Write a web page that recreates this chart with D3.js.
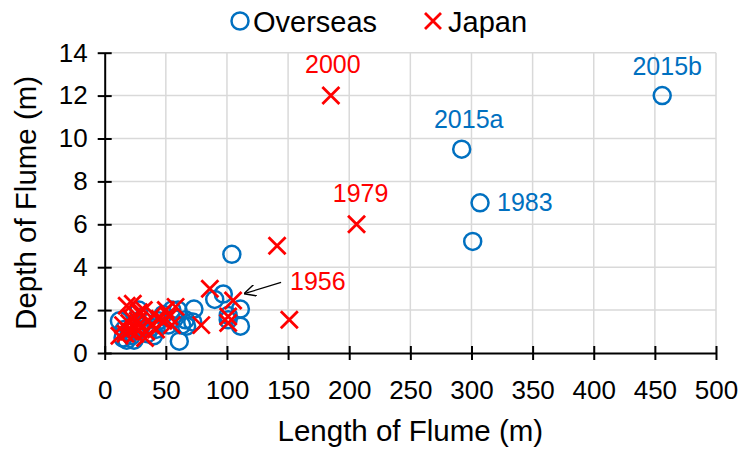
<!DOCTYPE html>
<html>
<head>
<meta charset="utf-8">
<script src="https://cdn.jsdelivr.net/npm/d3@7"></script>
<style>
  body { margin: 0; background: #fff; }
  svg text { font-family: "Liberation Sans", Arial, sans-serif; }
</style>
</head>
<body>
<div id="chart"></div>
<script>
// Overseas flumes: length (m), depth (m)
const overseasLength = [104, 97, 90, 111, 101, 101, 111, 61, 73, 66, 67, 72, 60, 292, 307, 301, 456,
  12, 15, 18, 20, 22, 25, 28, 29, 32, 35, 38, 40, 44, 48, 52, 55, 57, 30, 24, 16, 42, 63];
const overseasDepth = [4.6, 2.75, 2.5, 2.05, 1.75, 1.55, 1.25, 0.55, 2.05, 1.55, 1.25, 1.45, 2.0, 9.5, 7.0, 5.2, 12.0,
  1.5, 0.7, 0.6, 1.0, 0.8, 1.4, 2.0, 1.1, 1.7, 0.9, 1.2, 0.8, 1.5, 1.8, 1.3, 2.0, 1.6, 1.3, 0.6, 1.1, 1.1, 1.3];

// Japanese flumes: length (m), depth (m)
const japanLength = [185, 206, 141, 151, 105, 101, 101, 86, 79,
  12, 15, 18, 20, 22, 23, 25, 27, 28, 30, 32, 34, 36, 38, 40, 42, 45, 48, 50, 53, 55, 58, 20, 17, 26, 33];
const japanDepth = [12.0, 6.0, 5.0, 1.55, 2.45, 1.7, 1.4, 3.0, 1.3,
  0.8, 1.3, 2.2, 1.0, 1.6, 2.3, 0.9, 1.5, 1.9, 1.2, 2.0, 1.0, 1.5, 1.3, 1.8, 1.1, 1.6, 1.5, 2.0, 1.7, 1.3, 2.15, 1.4, 0.9, 1.2, 0.7];

const xTicks = [0, 50, 100, 150, 200, 250, 300, 350, 400, 450, 500];
const yTicks = [0, 2, 4, 6, 8, 10, 12, 14];

// labelled points: series, index into series arrays, text
const labelSeries = ["japan", "japan", "overseas", "overseas", "overseas", "japan"];
const labelIndex = [0, 1, 13, 14, 16, 4];
const labelText = ["2000", "1979", "2015a", "1983", "2015b", "1956"];

const W = 743, H = 450;
const blue = "#0070C0", red = "#FF0000";

const svg = d3.select("#chart").append("svg")
  .attr("width", W).attr("height", H);

const x = d3.scaleLinear().domain([0, 500]).range([104.7, 716]);
const y = d3.scaleLinear().domain([0, 14]).range([353, 52.7]);

// grid
svg.append("g").selectAll("line").data(xTicks.slice(1)).enter().append("line")
  .attr("x1", d => x(d)).attr("x2", d => x(d))
  .attr("y1", y(0)).attr("y2", y(14))
  .attr("stroke", "#d9d9d9").attr("stroke-width", 1.5);
svg.append("g").selectAll("line").data(yTicks.slice(1)).enter().append("line")
  .attr("x1", x(0)).attr("x2", x(500))
  .attr("y1", d => y(d)).attr("y2", d => y(d))
  .attr("stroke", "#d9d9d9").attr("stroke-width", 1.5);

// axes (cross tick marks)
const xAxis = svg.append("g")
  .attr("transform", `translate(0,${y(0)})`)
  .call(d3.axisBottom(x).tickValues(xTicks).tickSize(7).tickSizeOuter(0));
xAxis.selectAll(".tick line").attr("y1", -7);
xAxis.selectAll("text").attr("dy", "1.4em");

const yAxis = svg.append("g")
  .attr("transform", `translate(${x(0)},0)`)
  .call(d3.axisLeft(y).tickValues(yTicks).tickSize(7).tickSizeOuter(0));
yAxis.selectAll(".tick line").attr("x1", 7);
yAxis.selectAll("text").attr("x", -17);

svg.selectAll(".domain").attr("stroke", "#000").attr("stroke-width", 2);
svg.selectAll(".tick line").attr("stroke", "#000").attr("stroke-width", 2);
svg.selectAll(".tick text").attr("font-size", 26).attr("fill", "#000")
  .attr("font-family", "Liberation Sans, Arial, sans-serif");

// axis titles
svg.append("text")
  .attr("x", (x(0) + x(500)) / 2).attr("y", 441)
  .attr("text-anchor", "middle").attr("font-size", 29.5)
  .text("Length of Flume (m)");
svg.append("text")
  .attr("transform", `translate(36,${(y(0) + y(14)) / 2}) rotate(-90)`)
  .attr("text-anchor", "middle").attr("font-size", 29.5)
  .text("Depth of Flume (m)");

// series
const overseas = overseasLength.map((d, i) => ({ l: d, d: overseasDepth[i] }));
const japan = japanLength.map((d, i) => ({ l: d, d: japanDepth[i] }));

svg.append("g").selectAll("circle").data(overseas).enter().append("circle")
  .attr("cx", d => x(d.l)).attr("cy", d => y(d.d)).attr("r", 8.5)
  .attr("fill", "none").attr("stroke", blue).attr("stroke-width", 2.5);

const s = 8.5;
const crossPath = d => `M${x(d.l) - s},${y(d.d) - s}L${x(d.l) + s},${y(d.d) + s}M${x(d.l) - s},${y(d.d) + s}L${x(d.l) + s},${y(d.d) - s}`;
svg.append("g").selectAll("path").data(japan).enter().append("path")
  .attr("d", crossPath)
  .attr("fill", "none").attr("stroke", red).attr("stroke-width", 2.8);

// annotations
const labelOffsets = {
  "2000": [2, -23, "middle"],
  "1979": [4, -22, "middle"],
  "2015a": [7, -21, "middle"],
  "1983": [17, 8, "start"],
  "2015b": [5, -21, "middle"],
  "1956": [57, -10, "start"]
};
labelText.forEach((t, i) => {
  const isJ = labelSeries[i] === "japan";
  const p = isJ ? japan[labelIndex[i]] : overseas[labelIndex[i]];
  const o = labelOffsets[t];
  svg.append("text")
    .attr("x", x(p.l) + o[0]).attr("y", y(p.d) + o[1])
    .attr("text-anchor", o[2]).attr("font-size", 25)
    .attr("fill", isJ ? red : blue)
    .text(t);
});

// arrow for 1956
svg.append("defs").append("marker")
  .attr("id", "arr").attr("viewBox", "0 0 10 10")
  .attr("refX", 9).attr("refY", 5)
  .attr("markerWidth", 12).attr("markerHeight", 12)
  .attr("markerUnits", "userSpaceOnUse").attr("orient", "auto")
  .append("path").attr("d", "M0,0L10,5L0,10").attr("fill", "none").attr("stroke", "#000").attr("stroke-width", 1.2);
const p56 = japan[4];
svg.append("line")
  .attr("x1", x(p56.l) + 48).attr("y1", y(p56.d) - 18)
  .attr("x2", x(p56.l) + 12).attr("y2", y(p56.d) - 7)
  .attr("stroke", "#000").attr("stroke-width", 1.2)
  .attr("marker-end", "url(#arr)");

// legend
const leg = svg.append("g");
leg.append("circle").attr("cx", 240).attr("cy", 21).attr("r", 8.5)
  .attr("fill", "none").attr("stroke", blue).attr("stroke-width", 2.5);
leg.append("text").attr("x", 253).attr("y", 31.5).attr("font-size", 29).text("Overseas");
leg.append("path")
  .attr("d", `M${433 - 8},${21 - 8}L${433 + 8},${21 + 8}M${433 - 8},${21 + 8}L${433 + 8},${21 - 8}`)
  .attr("stroke", red).attr("stroke-width", 2.8);
leg.append("text").attr("x", 448).attr("y", 31.5).attr("font-size", 29).text("Japan");
</script>
</body>
</html>
